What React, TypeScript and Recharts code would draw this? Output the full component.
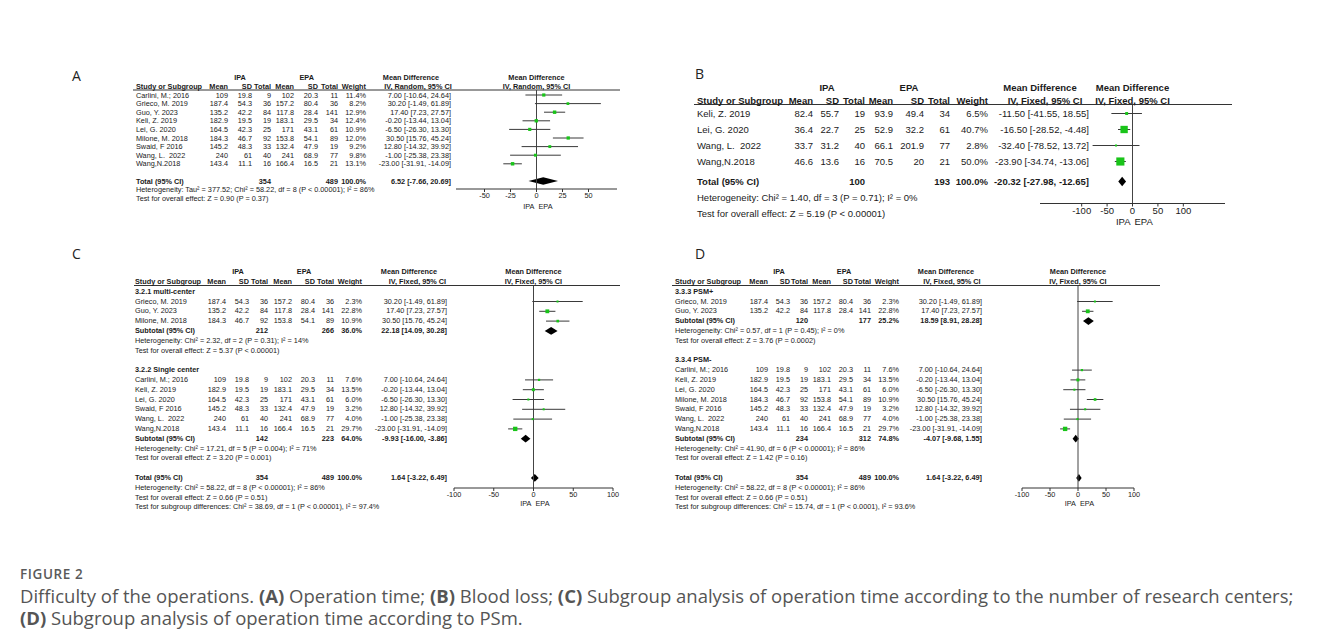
import React from "react";
import { ComposedChart, Scatter, ErrorBar, XAxis, YAxis, ReferenceLine, ReferenceArea } from "recharts";

const FONT = '"Liberation Sans", Arial, Helvetica, sans-serif';
const CAPFONT = '"Open Sans", "Noto Sans", sans-serif';

// ---------- Operation time studies (A, C, D) ----------
const studies = ["Carlini, M.; 2016", "Grieco, M. 2019", "Guo, Y. 2023", "Keli, Z. 2019", "Lei, G. 2020", "Milone, M. 2018", "Swaid, F 2016", "Wang, L.  2022", "Wang,N.2018"];
const ipaMean = [109, 187.4, 135.2, 182.9, 164.5, 184.3, 145.2, 240, 143.4];
const ipaSD = [19.8, 54.3, 42.2, 19.5, 42.3, 46.7, 48.3, 61, 11.1];
const ipaN = [9, 36, 84, 19, 25, 92, 33, 40, 16];
const epaMean = [102, 157.2, 117.8, 183.1, 171, 153.8, 132.4, 241, 166.4];
const epaSD = [20.3, 80.4, 28.4, 29.5, 43.1, 54.1, 47.9, 68.9, 16.5];
const epaN = [11, 36, 141, 34, 61, 89, 19, 77, 21];
const mdEst = [7.0, 30.2, 17.4, -0.2, -6.5, 30.5, 12.8, -1.0, -23.0];
const mdLo = [-10.64, -1.49, 7.23, -13.44, -26.3, 15.76, -14.32, -25.38, -31.91];
const mdHi = [24.64, 61.89, 27.57, 13.04, 13.3, 45.24, 39.92, 23.38, -14.09];
const weightRandomA = [11.4, 8.2, 12.9, 12.4, 10.9, 12.0, 9.2, 9.8, 13.1];
const weightFixedCD = [7.6, 2.3, 22.8, 13.5, 6.0, 10.9, 3.2, 4.0, 29.7];

// subgroup membership (indices into studies)
const cMultiIdx = [1, 2, 5];
const cSingleIdx = [0, 3, 4, 6, 7, 8];
const dPlusIdx = [1, 2];
const dMinusIdx = [0, 3, 4, 5, 6, 7, 8];

// summaries: [IPA total, EPA total, weight, MD, lower, upper]
const aTotal = [354, 489, 100.0, 6.52, -7.66, 20.69];
const cMulti = [212, 266, 36.0, 22.18, 14.09, 30.28];
const cSingle = [142, 223, 64.0, -9.93, -16.0, -3.86];
const cdTotal = [354, 489, 100.0, 1.64, -3.22, 6.49];
const dPlus = [120, 177, 25.2, 18.59, 8.91, 28.28];
const dMinus = [234, 312, 74.8, -4.07, -9.68, 1.55];

// ---------- Blood loss studies (B) ----------
const bStudies = ["Keli, Z. 2019", "Lei, G. 2020", "Wang, L.  2022", "Wang,N.2018"];
const bIpaMean = [82.4, 36.4, 33.7, 46.6];
const bIpaSD = [55.7, 22.7, 31.2, 13.6];
const bIpaN = [19, 25, 40, 16];
const bEpaMean = [93.9, 52.9, 66.1, 70.5];
const bEpaSD = [49.4, 32.2, 201.9, 20];
const bEpaN = [34, 61, 77, 21];
const bWeight = [6.5, 40.7, 2.8, 50.0];
const bEst = [-11.5, -16.5, -32.4, -23.9];
const bLo = [-41.55, -28.52, -78.52, -34.74];
const bHi = [18.55, -4.48, 13.72, -13.06];
const bTotal = [100, 193, 100.0, -20.32, -27.98, -12.65];

// ---------- texts ----------
const notesA = ["Heterogeneity: Tau\u00b2 = 377.52; Chi\u00b2 = 58.22, df = 8 (P < 0.00001); I\u00b2 = 86%", "Test for overall effect: Z = 0.90 (P = 0.37)"];
const notesB = ["Heterogeneity: Chi\u00b2 = 1.40, df = 3 (P = 0.71); I\u00b2 = 0%", "Test for overall effect: Z = 5.19 (P < 0.00001)"];
const notesCMulti = ["Heterogeneity: Chi\u00b2 = 2.32, df = 2 (P = 0.31); I\u00b2 = 14%", "Test for overall effect: Z = 5.37 (P < 0.00001)"];
const notesCSingle = ["Heterogeneity: Chi\u00b2 = 17.21, df = 5 (P = 0.004); I\u00b2 = 71%", "Test for overall effect: Z = 3.20 (P = 0.001)"];
const notesCTotal = ["Heterogeneity: Chi\u00b2 = 58.22, df = 8 (P < 0.00001); I\u00b2 = 86%", "Test for overall effect: Z = 0.66 (P = 0.51)", "Test for subgroup differences: Chi\u00b2 = 38.69, df = 1 (P < 0.00001), I\u00b2 = 97.4%"];
const notesDPlus = ["Heterogeneity: Chi\u00b2 = 0.57, df = 1 (P = 0.45); I\u00b2 = 0%", "Test for overall effect: Z = 3.76 (P = 0.0002)"];
const notesDMinus = ["Heterogeneity: Chi\u00b2 = 41.90, df = 6 (P < 0.00001); I\u00b2 = 86%", "Test for overall effect: Z = 1.42 (P = 0.16)"];
const notesDTotal = ["Heterogeneity: Chi\u00b2 = 58.22, df = 8 (P < 0.00001); I\u00b2 = 86%", "Test for overall effect: Z = 0.66 (P = 0.51)", "Test for subgroup differences: Chi\u00b2 = 15.74, df = 1 (P < 0.0001), I\u00b2 = 93.6%"];
const colHeads = ["Mean", "SD", "Total", "Mean", "SD", "Total", "Weight"];
const ticksA = [-50, -25, 0, 25, 50];
const ticks100 = [-100, -50, 0, 50, 100];

// ---------- helpers ----------
const f2 = (v: number) => v.toFixed(2);
const pct = (w: number) => w.toFixed(1) + "%";
const ciText = (e: number, l: number, h: number) => `${f2(e)} [${f2(l)}, ${f2(h)}]`;

type Item = { kind: string; r: number; name: string; vals?: string[]; ci?: string; est?: number; lo?: number; hi?: number; w?: number };

const studyItem = (r: number, i: number, w: number): Item => ({
  kind: "study", r, name: studies[i],
  vals: [String(ipaMean[i]), String(ipaSD[i]), String(ipaN[i]), String(epaMean[i]), String(epaSD[i]), String(epaN[i]), pct(w)],
  ci: ciText(mdEst[i], mdLo[i], mdHi[i]), est: mdEst[i], lo: mdLo[i], hi: mdHi[i], w,
});
const bItem = (r: number, i: number): Item => ({
  kind: "study", r, name: bStudies[i],
  vals: [String(bIpaMean[i]), String(bIpaSD[i]), String(bIpaN[i]), String(bEpaMean[i]), String(bEpaSD[i]), String(bEpaN[i]), pct(bWeight[i])],
  ci: ciText(bEst[i], bLo[i], bHi[i]), est: bEst[i], lo: bLo[i], hi: bHi[i], w: bWeight[i],
});
const sumItem = (r: number, name: string, s: number[]): Item => ({
  kind: "sum", r, name, vals: ["", "", String(s[0]), "", "", String(s[1]), pct(s[2])],
  ci: ciText(s[3], s[4], s[5]), est: s[3], lo: s[4], hi: s[5],
});
const labelItem = (r: number, name: string): Item => ({ kind: "label", r, name });
const noteItems = (r: number, ns: string[]): Item[] => ns.map((n, k) => ({ kind: "note", r: r + k, name: n }));

// ---------- panel layouts ----------
const cfgA = {
  fs: 7.3, y0: 95, sp: 8.6, hdr1: 77.8, hdr2: 86.4, line: [133, 620, 90], nameX: 136,
  cols: [228, 252, 271, 294, 318, 338, 366, 451], ipaC: 240, epaC: 306.7, md1: 411, md2: 418,
  iv: "IV, Random, 95% CI", plotC: 536.5, lab: 17,
  axis: { x0: 456, x1: 617, y: 189, d0: -77.4, d1: 77.4, ticks: ticksA }, sqK: 0.95, diaH: 0.45,
};
const cfgB = {
  fs: 9.5, y0: 113, sp: 16, hdr1: 87, hdr2: 100, line: [694, 1232, 104.5], nameX: 697,
  cols: [813, 839, 865, 893, 924, 950, 988, 1089], ipaC: 827, epaC: 909, md1: 1040, md2: 1045,
  iv: "IV, Fixed, 95% CI", plotC: 1132.5, lab: 18,
  axis: { x0: 1040, x1: 1225, y: 203, d0: -182, d1: 182, ticks: ticks100 }, sqK: 1.15, diaH: 0.3,
};
const cfgC = {
  fs: 7.3, y0: 301, sp: 9.8, hdr1: 271.6, hdr2: 281.4, line: [134, 620, 285.5], nameX: 135,
  cols: [226, 249, 268, 292, 315, 334, 362, 447], ipaC: 238, epaC: 304, md1: 409, md2: 417.5,
  iv: "IV, Fixed, 95% CI", plotC: 533.5, lab: 16,
  axis: { x0: 454, x1: 613, y: 487.5, d0: -100, d1: 100, ticks: ticks100 }, sqK: 0.8, diaH: 0.4,
};
const cfgD = {
  fs: 7.3, y0: 301, sp: 9.8, hdr1: 271.6, hdr2: 281.4, line: [672, 1160, 285.5], nameX: 675,
  cols: [768, 790, 808, 831, 853, 871, 899, 982], ipaC: 779, epaC: 844, md1: 946, md2: 952,
  iv: "IV, Fixed, 95% CI", plotC: 1078, lab: 16,
  axis: { x0: 1022, x1: 1134, y: 487.5, d0: -100, d1: 100, ticks: ticks100 }, sqK: 0.8, diaH: 0.4,
};

const itemsA: Item[] = [
  ...studies.map((_, i) => studyItem(i, i, weightRandomA[i])),
  sumItem(10, "Total (95% CI)", aTotal),
  ...noteItems(11, notesA),
];
const itemsB: Item[] = [
  ...bStudies.map((_, i) => bItem(i, i)),
  sumItem(4.25, "Total (95% CI)", bTotal),
  ...noteItems(5.25, notesB),
];
const itemsC: Item[] = [
  labelItem(-1, "3.2.1 multi-center"),
  ...cMultiIdx.map((i, k) => studyItem(k, i, weightFixedCD[i])),
  sumItem(3, "Subtotal (95% CI)", cMulti),
  ...noteItems(4, notesCMulti),
  labelItem(7, "3.2.2 Single center"),
  ...cSingleIdx.map((i, k) => studyItem(8 + k, i, weightFixedCD[i])),
  sumItem(14, "Subtotal (95% CI)", cSingle),
  ...noteItems(15, notesCSingle),
  sumItem(18, "Total (95% CI)", cdTotal),
  ...noteItems(19, notesCTotal),
];
const itemsD: Item[] = [
  labelItem(-1, "3.3.3 PSM+"),
  ...dPlusIdx.map((i, k) => studyItem(k, i, weightFixedCD[i])),
  sumItem(2, "Subtotal (95% CI)", dPlus),
  ...noteItems(3, notesDPlus),
  labelItem(6, "3.3.4 PSM-"),
  ...dMinusIdx.map((i, k) => studyItem(7 + k, i, weightFixedCD[i])),
  sumItem(14, "Subtotal (95% CI)", dMinus),
  ...noteItems(15, notesDMinus),
  sumItem(18, "Total (95% CI)", cdTotal),
  ...noteItems(19, notesDTotal),
];

function PanelText({ cfg, items }: any) {
  const Y = (r: number) => cfg.y0 + r * cfg.sp;
  const out: any[] = [];
  const t = (key: string, x: number, y: number, s: string, anchor: string, bold: boolean) =>
    out.push(
      <text key={key} x={x} y={y} textAnchor={anchor} dominantBaseline="central" fontWeight={bold ? "bold" : "normal"} style={{ whiteSpace: "pre" }}>
        {s}
      </text>
    );
  t("h1", cfg.ipaC, cfg.hdr1, "IPA", "middle", true);
  t("h2", cfg.epaC, cfg.hdr1, "EPA", "middle", true);
  t("h3", cfg.md1, cfg.hdr1, "Mean Difference", "middle", true);
  t("h4", cfg.plotC, cfg.hdr1, "Mean Difference", "middle", true);
  t("s0", cfg.nameX, cfg.hdr2, "Study or Subgroup", "start", true);
  colHeads.forEach((c, k) => t("c" + k, cfg.cols[k], cfg.hdr2, c, "end", true));
  t("iv1", cfg.md2, cfg.hdr2, cfg.iv, "middle", true);
  t("iv2", cfg.plotC, cfg.hdr2, cfg.iv, "middle", true);
  items.forEach((it: Item, n: number) => {
    const y = Y(it.r);
    const bold = it.kind === "sum" || it.kind === "label";
    t("n" + n, cfg.nameX, y, it.name, "start", bold);
    if (it.vals) it.vals.forEach((v, k) => v && t(`v${n}_${k}`, cfg.cols[k], y, v, "end", bold));
    if (it.ci) t("ci" + n, cfg.cols[7], y, it.ci, "end", bold);
  });
  const z = cfg.axis.x0 + ((0 - cfg.axis.d0) / (cfg.axis.d1 - cfg.axis.d0)) * (cfg.axis.x1 - cfg.axis.x0);
  t("ipa", z - 2, cfg.axis.y + cfg.lab, "IPA", "end", false);
  t("epa", z + 2, cfg.axis.y + cfg.lab, "EPA", "start", false);
  return (
    <g fontFamily={FONT} fontSize={cfg.fs} fill="#1a1a1a">
      <line x1={cfg.line[0]} x2={cfg.line[1]} y1={cfg.line[2]} y2={cfg.line[2]} stroke="#333" strokeWidth={1} />
      {out}
    </g>
  );
}

const diamondShape = (est: number, lo: number, hi: number) => (p: any) => {
  const cx = p.x + (p.width * (est - lo)) / (hi - lo);
  const cy = p.y + p.height / 2;
  return <polygon points={`${p.x},${cy} ${cx},${p.y} ${p.x + p.width},${cy} ${cx},${p.y + p.height}`} fill="#000" />;
};

function ForestPlot({ cfg, items }: any) {
  const { x0, x1, y, d0, d1, ticks } = cfg.axis;
  const mL = 16, mR = 16, xh = 24;
  const plotTop = cfg.line[2];
  const w = x1 - x0 + mL + mR;
  const h = y - plotTop + xh;
  const yd0 = (plotTop - cfg.y0) / cfg.sp;
  const yd1 = (y - cfg.y0) / cfg.sp;
  const pts = items
    .filter((it: Item) => it.kind === "study")
    .map((it: Item) => ({ est: it.est, row: it.r, err: [(it.est as number) - (it.lo as number), (it.hi as number) - (it.est as number)], w: it.w }));
  const dias = items.filter((it: Item) => it.kind === "sum");
  const square = (p: any) => {
    const s = Math.max(2, cfg.sqK * Math.sqrt(p.payload.w));
    return <rect x={p.cx - s / 2} y={p.cy - s / 2} width={s} height={s} fill="#19c419" />;
  };
  return (
    <div style={{ position: "absolute", left: x0 - mL, top: plotTop, width: w, height: h }}>
      <ComposedChart width={w} height={h} margin={{ top: 0, right: mR, bottom: 0, left: mL }}>
        <XAxis
          type="number" dataKey="est" domain={[d0, d1]} ticks={ticks} interval={0} allowDataOverflow
          height={xh} tickSize={3} tickMargin={1}
          axisLine={{ stroke: "#333" }} tickLine={{ stroke: "#333" }}
          tick={{ fontSize: cfg.fs, fill: "#1a1a1a", fontFamily: FONT }}
        />
        <YAxis type="number" dataKey="row" domain={[yd0, yd1]} reversed hide allowDataOverflow />
        <ReferenceLine x={0} stroke="#444" strokeWidth={1} />
        {dias.map((d: Item, k: number) => (
          <ReferenceArea key={k} x1={d.lo} x2={d.hi} y1={d.r - cfg.diaH} y2={d.r + cfg.diaH} shape={diamondShape(d.est as number, d.lo as number, d.hi as number)} />
        ))}
        <Scatter data={pts} isAnimationActive={false} shape={square}>
          <ErrorBar dataKey="err" direction="x" width={0} stroke="#3a3a3a" strokeWidth={1} isAnimationActive={false} />
        </Scatter>
      </ComposedChart>
    </div>
  );
}

const panels = [
  { cfg: cfgA, items: itemsA },
  { cfg: cfgB, items: itemsB },
  { cfg: cfgC, items: itemsC },
  { cfg: cfgD, items: itemsD },
];
const panelLabels = [
  { t: "A", x: 72, y: 75 },
  { t: "B", x: 695, y: 73 },
  { t: "C", x: 72, y: 253 },
  { t: "D", x: 695, y: 253 },
];

export default function App() {
  return (
    <div style={{ position: "absolute", left: 0, top: 0, width: 1328, height: 638, background: "#fff", overflow: "hidden" }}>
      <svg width={1328} height={638} style={{ position: "absolute", left: 0, top: 0 }}>
        {panels.map((p, k) => (
          <PanelText key={k} cfg={p.cfg} items={p.items} />
        ))}
        {panelLabels.map((l) => (
          <text key={l.t} x={l.x} y={l.y} dominantBaseline="central" fontFamily={CAPFONT} fontSize={14} fill="#222">
            {l.t}
          </text>
        ))}
      </svg>
      {panels.map((p, k) => (
        <ForestPlot key={k} cfg={p.cfg} items={p.items} />
      ))}
      <div style={{ position: "absolute", left: 20, top: 565, fontFamily: CAPFONT, fontSize: 13.5, color: "#5a5a5a", letterSpacing: 0.6, fontWeight: 600, lineHeight: "18px" }}>
        FIGURE 2
      </div>
      <div style={{ position: "absolute", left: 20, top: 584.5, fontFamily: CAPFONT, fontSize: 18.5, color: "#555", lineHeight: "22.5px", whiteSpace: "nowrap" }}>
        <div>
          Difficulty of the operations. <b>(A)</b> Operation time; <b>(B)</b> Blood loss; <b>(C)</b> Subgroup analysis of operation time according to the number of research centers;
        </div>
        <div>
          <b>(D)</b> Subgroup analysis of operation time according to PSm.
        </div>
      </div>
    </div>
  );
}
